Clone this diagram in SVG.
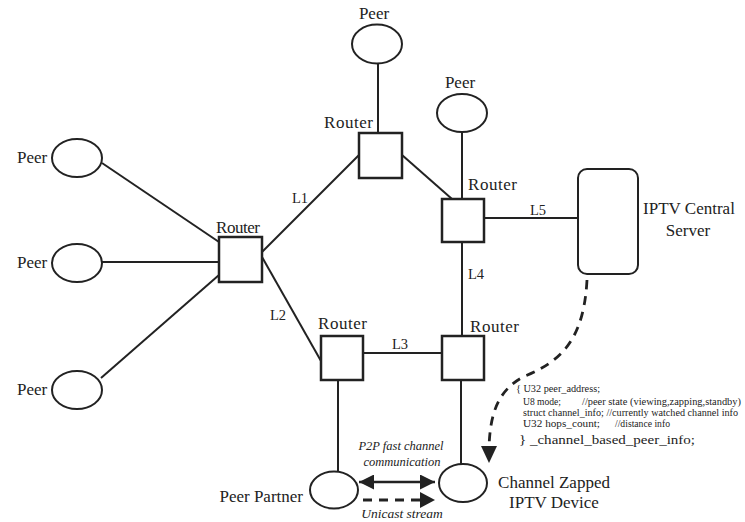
<svg xmlns="http://www.w3.org/2000/svg" width="745" height="522" viewBox="0 0 745 522">
<defs>
<style>
.lbl{font-family:"Liberation Serif","Times New Roman",serif;font-size:17px;fill:#222}
.l{font-family:"Liberation Serif","Times New Roman",serif;font-size:14.5px;fill:#222}
.it{font-family:"Liberation Serif","Times New Roman",serif;font-size:12.5px;font-style:italic;fill:#222}
.code{font-family:"Liberation Serif","Times New Roman",serif;font-size:10.5px;fill:#222}
.peer{fill:#fff;stroke:#222;stroke-width:2}
.router{fill:#fff;stroke:#222;stroke-width:2.5}
.ln{stroke:#222;stroke-width:2;fill:none}
.dash{stroke:#222;stroke-width:2.8;fill:none;stroke-dasharray:9 7}
</style>
<marker id="ah" viewBox="0 0 10 10" refX="10" refY="5" markerWidth="15" markerHeight="15" markerUnits="userSpaceOnUse" orient="auto-start-reverse">
<path d="M0,0 L10,5 L0,10 Z" fill="#222"/>
</marker>
</defs>
<rect width="745" height="522" fill="#fff"/>
<g id="connectors">
<line class="ln" x1="102" y1="163" x2="219" y2="242"/>
<line class="ln" x1="102" y1="262" x2="219" y2="262"/>
<line class="ln" x1="101" y1="378" x2="219" y2="275"/>
<line class="ln" x1="262" y1="252" x2="359" y2="155"/>
<line class="ln" x1="262" y1="257" x2="321" y2="361"/>
<line class="ln" x1="378" y1="64" x2="378" y2="133"/>
<line class="ln" x1="402" y1="155" x2="452" y2="199"/>
<line class="ln" x1="462" y1="132" x2="462" y2="199"/>
<line class="ln" x1="484" y1="218" x2="578" y2="218"/>
<line class="ln" x1="462" y1="242" x2="462" y2="336"/>
<line class="ln" x1="363" y1="353" x2="442" y2="353"/>
<line class="ln" x1="338" y1="380" x2="338" y2="472"/>
<line class="ln" x1="461" y1="380" x2="461" y2="464"/>
<line stroke="#222" stroke-width="2.5" x1="359" y1="482" x2="435" y2="482" marker-start="url(#ah)" marker-end="url(#ah)"/>
<line class="dash" x1="363" y1="500" x2="422" y2="500"/>
<path d="M420,492 L435,500 L420,508 Z" fill="#222"/>
<path class="dash" d="M587,280 C584,335 565,360 525,376 C497,390 490,415 489,448"/>
<path d="M481,446 L489,463 L497,446 Z" fill="#222"/>
<text class="l" x="292" y="203">L1</text>
<text class="l" x="270" y="320">L2</text>
<text class="l" x="392" y="349">L3</text>
<text class="l" x="468" y="279">L4</text>
<text class="l" x="530" y="215">L5</text>
<text class="it" x="401" y="450" text-anchor="middle">P2P fast channel</text>
<text class="it" x="402" y="466" text-anchor="middle">communication</text>
<text class="it" x="402" y="518" text-anchor="middle" style="font-size:13.5px">Unicast stream</text>
</g>
<g id="peer-left-1"><ellipse class="peer" cx="77" cy="158" rx="25" ry="19"/><text class="lbl" x="17" y="163">Peer</text></g>
<g id="peer-left-2"><ellipse class="peer" cx="77" cy="263" rx="25" ry="19"/><text class="lbl" x="17" y="268">Peer</text></g>
<g id="peer-left-3"><ellipse class="peer" cx="77" cy="390" rx="25" ry="19"/><text class="lbl" x="17" y="395">Peer</text></g>
<g id="peer-top"><ellipse class="peer" cx="377" cy="44" rx="25" ry="19.5"/><text class="lbl" x="374" y="19" text-anchor="middle">Peer</text></g>
<g id="peer-right"><ellipse class="peer" cx="462" cy="113" rx="25" ry="19"/><text class="lbl" x="460" y="88" text-anchor="middle">Peer</text></g>
<g id="router-left"><rect class="router" x="219" y="237" width="43" height="45"/><text class="lbl" x="216" y="233" textLength="44">Router</text></g>
<g id="router-top"><rect class="router" x="359" y="133" width="43" height="45"/><text class="lbl" x="324" y="128" textLength="49">Router</text></g>
<g id="router-right"><rect class="router" x="442" y="199" width="42" height="43"/><text class="lbl" x="468" y="190" textLength="49">Router</text></g>
<g id="router-bottom-mid"><rect class="router" x="321" y="336" width="42" height="44"/><text class="lbl" x="318" y="329" textLength="49">Router</text></g>
<g id="router-bottom-right"><rect class="router" x="442" y="336" width="42" height="44"/><text class="lbl" x="470" y="332" textLength="49">Router</text></g>
<g id="server"><rect x="578" y="169" width="60" height="105" rx="9" fill="#fff" stroke="#222" stroke-width="2"/><text class="lbl" x="689" y="214" text-anchor="middle">IPTV Central</text><text class="lbl" x="688" y="236" text-anchor="middle">Server</text></g>
<g id="peer-partner"><ellipse class="peer" cx="334" cy="490" rx="24" ry="18.5"/><text class="lbl" x="303" y="502" text-anchor="end">Peer Partner</text></g>
<g id="zapped-device"><ellipse class="peer" cx="463" cy="483" rx="24" ry="19"/><text class="lbl" x="554" y="488" text-anchor="middle">Channel Zapped</text><text class="lbl" x="554" y="508" text-anchor="middle">IPTV Device</text></g>
<g id="struct">
<text class="code" x="516" y="392" textLength="84" lengthAdjust="spacingAndGlyphs">{ U32 peer_address;</text>
<text class="code" x="523" y="405" textLength="38" lengthAdjust="spacingAndGlyphs">U8 mode;</text>
<text class="code" x="582" y="405" textLength="159" lengthAdjust="spacingAndGlyphs">//peer state (viewing,zapping,standby)</text>
<text class="code" x="523" y="416" textLength="215" lengthAdjust="spacingAndGlyphs">struct channel_info; //currently watched channel info</text>
<text class="code" x="523" y="427" textLength="77" lengthAdjust="spacingAndGlyphs">U32 hops_count;</text>
<text class="code" x="615" y="427" textLength="55" lengthAdjust="spacingAndGlyphs">//distance info</text>
<text class="code" x="519" y="444" style="font-size:13px" textLength="176" lengthAdjust="spacingAndGlyphs">} _channel_based_peer_info;</text>
</g>
</svg>
